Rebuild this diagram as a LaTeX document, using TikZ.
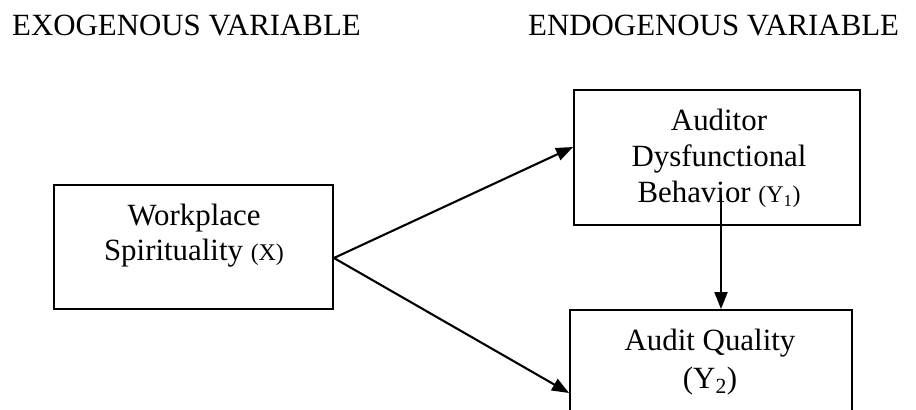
\documentclass[tikz,border=0pt]{standalone}
\usepackage{fontspec}
\setmainfont{Liberation Serif}
\usetikzlibrary{arrows.meta}
\begin{document}
\begin{tikzpicture}[x=1bp,y=-1bp,
  boxnode/.style={draw, line width=1.9bp, inner sep=0pt, rectangle},
  lbl/.style={align=center, anchor=north, inner sep=0pt},
  hdr/.style={anchor=base west, inner sep=0pt, font=\fontsize{31}{36}\selectfont},
  arr/.style={line width=2.1bp, -{Triangle[length=17bp,width=13bp]}}]
\useasboundingbox (0,0) rectangle (916,409);
\clip (0,0) rectangle (916,409);
% headers
\node[hdr] (exo) at (12,35) {EXOGENOUS VARIABLE};
\node[hdr] (endo) at (528,35) {ENDOGENOUS VARIABLE};
% boxes
\node[boxnode, minimum width=279bp, minimum height=124bp] (ws) at (193.5,247) {};
\node[boxnode, minimum width=286bp, minimum height=135bp] (adb) at (717,157.5) {};
\node[boxnode, minimum width=282bp, minimum height=140bp] (aq) at (711,380) {};
% texts
\node[lbl, font=\fontsize{31}{35}\selectfont] (wst) at (194,201)
  {\rule{0pt}{24bp}Workplace\\Spirituality {\fontsize{24}{24}\selectfont(X)}};
\node[lbl, font=\fontsize{31}{36.5}\selectfont] (adbt) at (719,106)
  {\rule{0pt}{24bp}Auditor\\Dysfunctional\\Behavior {\fontsize{24}{24}\selectfont(Y\textsubscript{1})}};
\node[lbl, font=\fontsize{31}{38}\selectfont] (aqt) at (710,326)
  {\rule{0pt}{24bp}Audit Quality\\(Y\textsubscript{2})};
% connectors
\coordinate (vs) at (721,195);
\draw[arr] ([yshift=-11bp]ws.east) -- ([yshift=10.5bp]adb.west);
\draw[arr] ([yshift=-11bp]ws.east) -- ([yshift=-13bp]aq.west);
\draw[arr] (vs) -- (vs |- aq.north);
\end{tikzpicture}
\end{document}
